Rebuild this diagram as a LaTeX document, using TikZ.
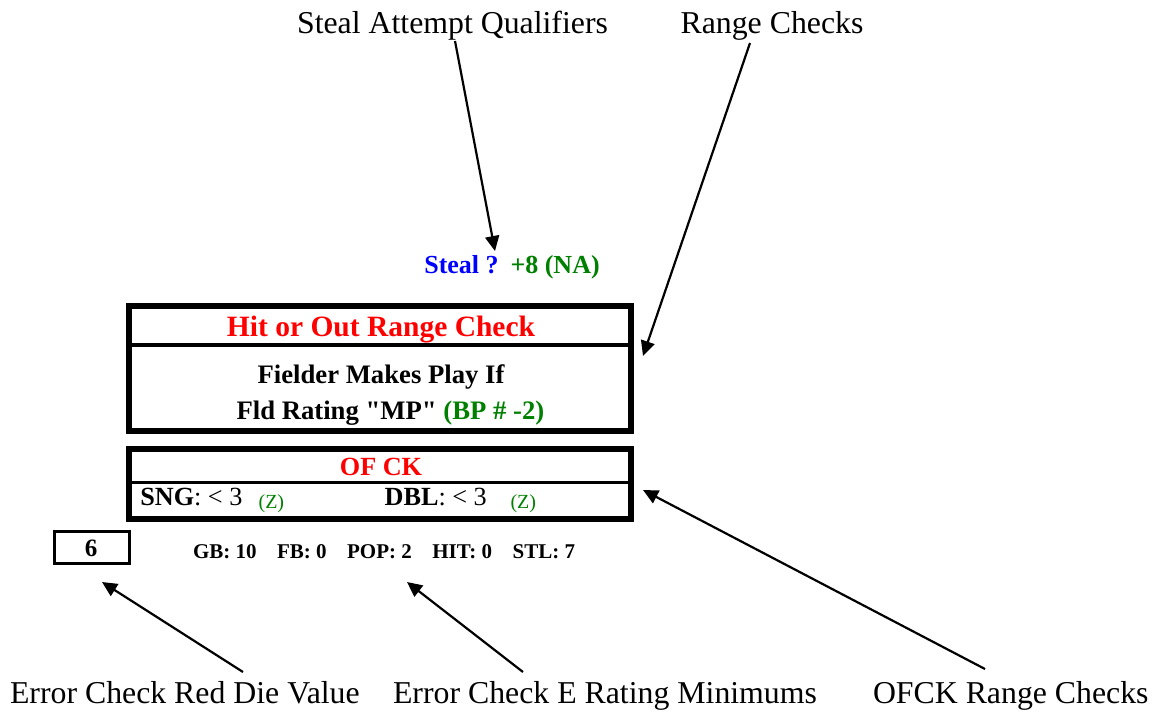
\documentclass[tikz,border=0pt]{standalone}
\usepackage{fontspec}
\setmainfont{Liberation Serif}
\usetikzlibrary{arrows.meta}
\definecolor{hdred}{RGB}{255,0,0}
\definecolor{stlblue}{RGB}{0,0,255}
\definecolor{okgreen}{RGB}{0,128,0}
\newcommand{\fsz}[1]{\fontsize{#1}{#1}\selectfont}
\begin{document}
\begin{tikzpicture}[x=1pt,y=-1pt,
  txt/.style={inner sep=0pt, outer sep=0pt},
  callout/.style={txt, font=\fsz{31.8}},
  pointer/.style={line width=2.2pt, -{Triangle[length=15pt,width=14pt]}},
  framebox/.style={draw, line width=6pt, inner sep=0pt, outer sep=0pt},
  rule/.style={line width=4pt}
]
\useasboundingbox (0,0) rectangle (1154,713);

% callout captions
\node[callout, anchor=base] (lblsteal) at (452.5,33) {Steal Attempt Qualifiers};
\node[callout, anchor=base] (lblrange) at (772,33) {Range Checks};
\node[callout, anchor=base west] (lbldie) at (10,703) {Error Check Red Die Value};
\node[callout, anchor=base west] (lblerr) at (393,703) {Error Check E Rating Minimums};
\node[callout, anchor=base west] (lblofck) at (873,703) {OFCK Range Checks};

% steal line
\node[txt, anchor=base west, font=\fsz{26}\bfseries, text=stlblue] (steal) at (424.3,273.8) {Steal ?};
\node[txt, anchor=base west, font=\fsz{26}\bfseries, text=okgreen] (stealval) at (510.5,273.8) {+8 (NA)};

% hit or out range check box
\node[framebox, minimum width=502pt, minimum height=125pt] (hitbox) at (380,368.5) {};
\draw[rule] (129,344.5) coordinate (hitl) -- (631,344.5) coordinate (hitr);
\node[txt, anchor=base, font=\fsz{29.5}\bfseries, text=hdred] (hittitle) at (381,336) {Hit or Out Range Check};
\node[txt, anchor=base, font=\fsz{26.7}\bfseries] (fielder) at (381,383.7) {Fielder Makes Play If};
\node[txt, anchor=base, font=\fsz{26.7}\bfseries] (fldrating) at (390.4,419)
  {Fld Rating \textquotedbl MP\textquotedbl{} \textcolor{okgreen}{(BP \# -2)}};

% outfield check box
\node[framebox, minimum width=502pt, minimum height=70pt] (ofbox) at (380,484) {};
\draw[line width=3.5pt] (129,482.5) coordinate (ofl) -- (631,482.5) coordinate (ofr);
\node[txt, anchor=base, font=\fsz{26.2}\bfseries, text=hdred] (oftitle) at (381,475) {OF CK};
\node[txt, anchor=base west, font=\fsz{26.2}] (sng) at (140.3,505.5) {\textbf{SNG}: < 3};
\node[txt, anchor=base west, font=\fsz{20}, text=okgreen] (sngz) at (258.6,508.8) {(Z)};
\node[txt, anchor=base west, font=\fsz{26.2}] (dbl) at (384.7,505.5) {\textbf{DBL}: < 3};
\node[txt, anchor=base west, font=\fsz{20}, text=okgreen] (dblz) at (510.5,508.8) {(Z)};

% red die box and error minimums
\node[draw, line width=3pt, minimum width=75pt, minimum height=32pt, inner sep=0pt] (diebox) at (91.5,547.5) {};
\node[txt, anchor=base, font=\fsz{25}\bfseries] (dieval) at (91,556.5) {6};
\node[txt, anchor=base west, font=\fsz{21}\bfseries] (emins) at (193,558)
  {GB: 10\hspace{20.5pt}FB: 0\hspace{20.5pt}POP: 2\hspace{20.5pt}HIT: 0\hspace{20.5pt}STL: 7};

% pointer ends
\coordinate (stealfrom) at (455,41);
\coordinate (stealto) at (495,251);
\coordinate (rangefrom) at (750,43);
\coordinate (rangeto) at (643,356);
\coordinate (diefrom) at (243,672);
\coordinate (dieto) at (102,582);
\coordinate (errfrom) at (523,672);
\coordinate (errto) at (407,582);
\coordinate (ofckfrom) at (985,669);
\coordinate (ofckto) at (643,490);

\draw[pointer] (stealfrom) -- (stealto);
\draw[pointer] (rangefrom) -- (rangeto);
\draw[pointer] (diefrom) -- (dieto);
\draw[pointer] (errfrom) -- (errto);
\draw[pointer] (ofckfrom) -- (ofckto);
\end{tikzpicture}
\end{document}
